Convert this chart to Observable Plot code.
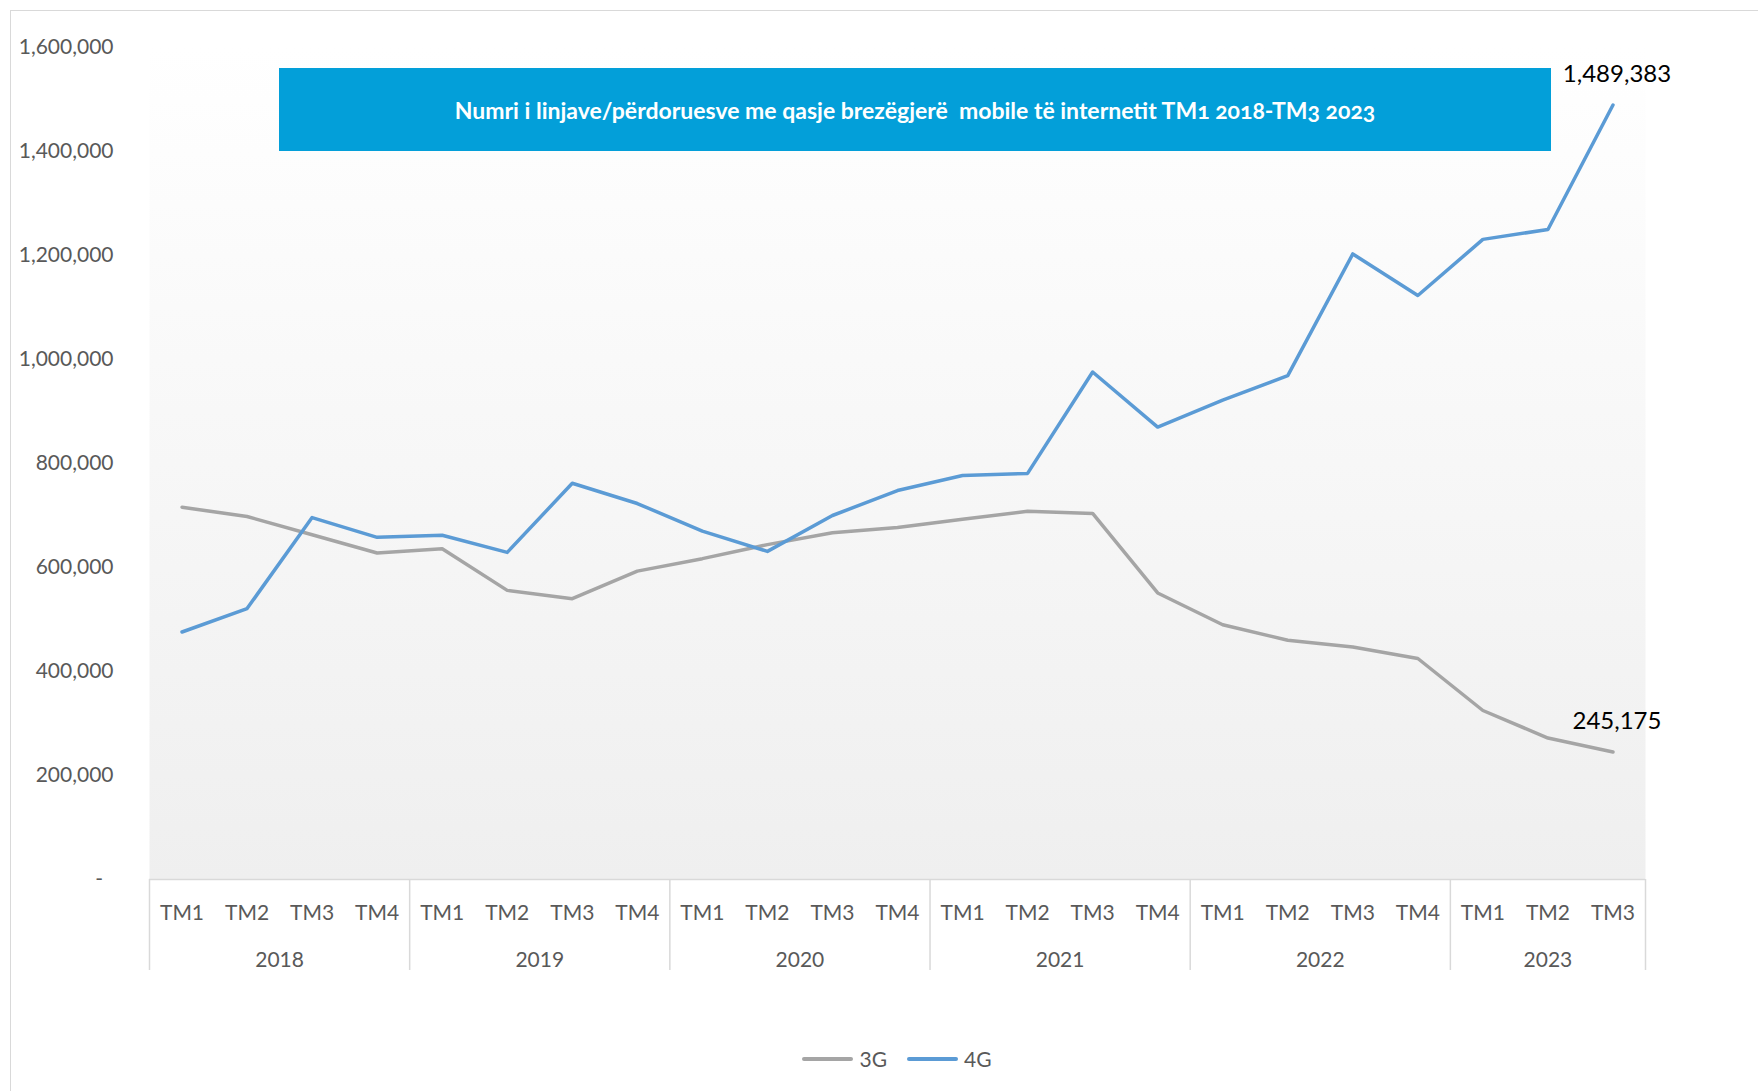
<!DOCTYPE html>
<html>
<head>
<meta charset="utf-8">
<script src="https://cdn.jsdelivr.net/npm/d3@7"></script>
<script src="https://cdn.jsdelivr.net/npm/@observablehq/plot@0.6"></script>
<style>
  html, body { margin: 0; padding: 0; background: #fff; }
  #wrap { position: relative; width: 1758px; height: 1091px; overflow: hidden; font-family: Lato, "Open Sans", sans-serif; }
  #border { position: absolute; left: 10px; top: 10px; width: 1800px; height: 1200px; border: 1.5px solid #d9d9d9; box-sizing: border-box; }
  #chart { position: absolute; left: 0; top: 0; }
  #title { position: absolute; left: 279px; top: 68px; width: 1272px; height: 83px; background: #039fd9; color: #fff;
           font-weight: 700; font-size: 23px; display: flex; align-items: center; justify-content: center;
           white-space: pre; font-variant-numeric: oldstyle-nums; font-feature-settings: "onum" 1; }
  #legend { position: absolute; left: 149px; width: 1496px; top: 1046px; display: flex; justify-content: center; align-items: center;
            font-size: 21px; color: #595959; }
  .item { display: flex; align-items: center; margin: 0 10px; }
  .sw { width: 51px; height: 4px; border-radius: 2px; margin-right: 6px; }
</style>
</head>
<body>
<div id="wrap">
  <div id="border"></div>
  <div id="chart"></div>
  <div id="title"></div>
  <div id="legend"></div>
</div>
<script>
// ---- data ----
const titleText = "Numri i linjave/përdoruesve me qasje brezëgjerë  mobile të internetit TM1 2018-TM3 2023";
const years = ["2018", "2019", "2020", "2021", "2022", "2023"];
const quartersPerYear = [4, 4, 4, 4, 4, 3];
const quarterLabels = ["TM1", "TM2", "TM3", "TM4"];
const seriesNames = ["3G", "4G"];
const seriesColors = ["#a5a5a5", "#5b9bd5"];
const values3G = [716000, 698000, 663000, 628000, 636000, 556000, 540000, 593000, 617000, 644000, 667000, 677000,
                  693000, 708000, 704000, 551000, 490000, 460000, 447000, 425000, 325000, 272000, 245175];
const values4G = [476000, 521000, 696000, 658000, 662000, 629000, 762000, 723000, 670000, 631000, 700000, 748000,
                  777000, 781000, 976000, 870000, 922000, 969000, 1203000, 1123000, 1231000, 1250000, 1489383];
const yTicks = [0, 200000, 400000, 600000, 800000, 1000000, 1200000, 1400000, 1600000];

// ---- derived tables ----
const periods = years.flatMap((y, k) => quarterLabels.slice(0, quartersPerYear[k]).map(q => ({year: y, q})));
periods.forEach((p, i) => p.i = i);
const yearGroups = [];
let start = 0;
years.forEach((y, k) => {
  const n = quartersPerYear[k];
  yearGroups.push({year: y, center: start + (n - 1) / 2, start: start - 0.5, end: start + n - 0.5});
  start += n;
});
const boundaries = [yearGroups[0].start, ...yearGroups.map(g => g.end)];
const seriesValues = [values3G, values4G];
const long = seriesNames.flatMap((s, k) => seriesValues[k].map((v, i) => ({series: s, i, value: v})));
const endPoints = seriesNames.map((s, k) => ({series: s, i: seriesValues[k].length - 1, value: seriesValues[k][seriesValues[k].length - 1]}));

const fmt = d3.format(",");

const chart = Plot.plot({
  width: 1758,
  height: 1000,
  marginLeft: 149,
  marginRight: 113,
  marginTop: 47,
  marginBottom: 121,
  style: {background: "transparent", fontFamily: "Lato, 'Open Sans', sans-serif", fontSize: "21px", color: "#595959", overflow: "visible"},
  x: {domain: [-0.5, periods.length - 0.5], axis: null},
  y: {domain: [0, 1600000], ticks: yTicks, tickFormat: d => d === 0 ? "-\u2002" : fmt(d), tickSize: 0, tickPadding: 36, label: null},
  color: {domain: seriesNames, range: seriesColors},
  marks: [
    () => {
      const defs = d3.create("svg:defs");
      const lg = defs.append("linearGradient").attr("id", "plotbg").attr("x1", 0).attr("y1", 0).attr("x2", 0).attr("y2", 1);
      lg.append("stop").attr("offset", "0%").attr("stop-color", "#ffffff");
      lg.append("stop").attr("offset", "100%").attr("stop-color", "#efefef");
      return defs.node();
    },
    Plot.frame({fill: "url(#plotbg)", stroke: "none"}),
    Plot.ruleY([0], {stroke: "#d9d9d9", strokeWidth: 1.5}),
    Plot.ruleX(boundaries, {y1: 0, y2: 0, insetBottom: -91, stroke: "#d9d9d9", strokeWidth: 1.5}),
    Plot.text(periods, {x: "i", text: "q", frameAnchor: "bottom", dy: 40, fill: "#595959"}),
    Plot.text(yearGroups, {x: "center", text: "year", frameAnchor: "bottom", dy: 87, fill: "#595959"}),
    Plot.line(long, {x: "i", y: "value", stroke: "series", z: "series", strokeWidth: 3.5, strokeLinejoin: "round", strokeLinecap: "round"}),
    Plot.text(endPoints, {x: "i", y: "value", text: d => fmt(d.value), dy: -31, dx: 4, fill: "#000", fontSize: 24})
  ]
});
document.getElementById("chart").appendChild(chart);
document.getElementById("title").textContent = titleText;

const legend = d3.select("#legend");
seriesNames.forEach((s, k) => {
  const it = legend.append("div").attr("class", "item");
  it.append("div").attr("class", "sw").style("background", seriesColors[k]);
  it.append("span").text(s);
});
</script>
</body>
</html>
